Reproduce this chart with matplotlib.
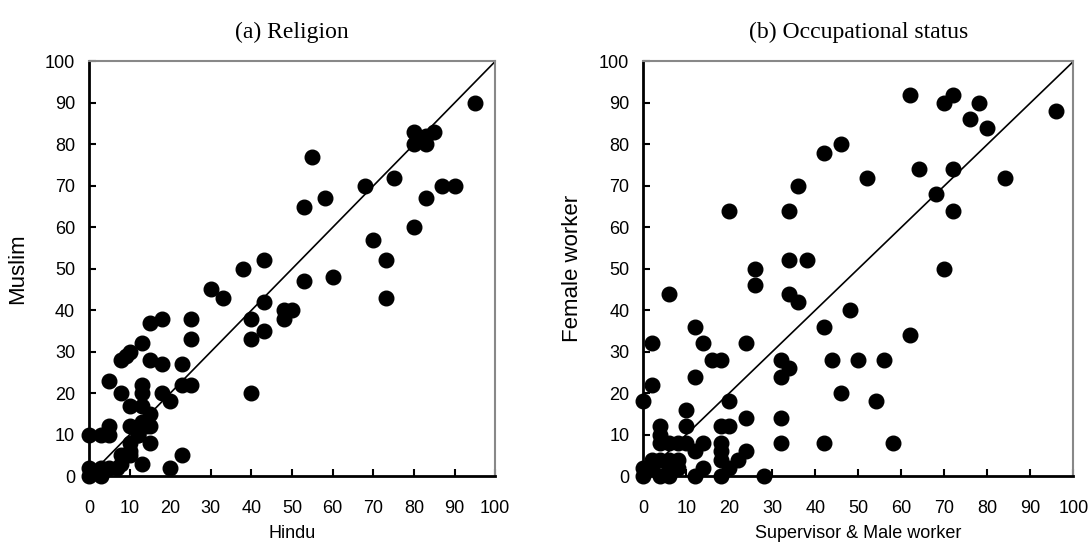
import matplotlib
matplotlib.use("Agg")
import matplotlib.pyplot as plt

# (a) Religion: Hindu vs Muslim
hindu = [95, 80, 83, 85, 80, 83, 55, 68, 75, 58, 83, 87, 90, 53, 70, 80, 73, 60, 53, 73,
         38, 43, 30, 33, 48, 50, 48, 43, 40, 43, 40, 40, 25, 25, 18, 15, 13, 10, 9, 8,
         15, 18, 23, 5, 13, 13, 8, 18, 20, 23, 25, 10, 13, 15, 10, 15, 13, 12, 15, 5,
         0, 3, 5, 10, 10, 8, 10, 8, 13, 20, 23, 0, 0, 3, 3, 2, 5, 7, 12, 14]
muslim = [90, 83, 82, 83, 80, 80, 77, 70, 72, 67, 67, 70, 70, 65, 57, 60, 52, 48, 47, 43,
          50, 52, 45, 43, 40, 40, 38, 42, 38, 35, 33, 20, 38, 33, 38, 37, 32, 30, 29, 28,
          28, 27, 27, 23, 22, 20, 20, 20, 18, 22, 22, 17, 17, 15, 12, 12, 13, 10, 8, 12,
          10, 10, 10, 8, 6, 5, 5, 3, 3, 2, 5, 2, 0, 0, 2, 1, 2, 2, 10, 12]

# (b) Occupational status: Supervisor & Male worker vs Female worker
male = [62, 72, 70, 78, 76, 80, 96, 42, 46, 52, 36, 64, 72, 68, 84, 72, 62,
        20, 34, 34, 38, 26, 70, 26, 34, 36, 6, 48, 42, 12, 2, 14, 24, 16, 18,
        32, 34, 32, 44, 50, 56, 2, 12, 46, 54, 0, 20, 10, 24, 32, 4, 10, 18,
        20, 32, 42, 58, 4, 4, 6, 8, 10, 14, 18, 12, 18, 24, 18, 22, 6, 8,
        2, 4, 0, 8, 14, 20, 0, 4, 6, 12, 18, 28, 6, 2]
female = [92, 92, 90, 90, 86, 84, 88, 78, 80, 72, 70, 74, 74, 68, 72, 64, 34,
          64, 64, 52, 52, 50, 50, 46, 44, 42, 44, 40, 36, 36, 32, 32, 32, 28, 28,
          28, 26, 24, 28, 28, 28, 22, 24, 20, 18, 18, 18, 16, 14, 14, 12, 12, 12,
          12, 8, 8, 8, 10, 8, 8, 8, 8, 8, 8, 6, 6, 6, 4, 4, 4, 4,
          4, 4, 2, 2, 2, 2, 0, 0, 0, 0, 0, 0, 2, 2]

ticks = list(range(0, 101, 10))

fig = plt.figure(figsize=(10.92, 5.53), dpi=100)
ax1 = fig.add_axes([0.0815, 0.139, 0.372, 0.750])
ax2 = fig.add_axes([0.589, 0.139, 0.394, 0.750])

panels = [
    (ax1, hindu, muslim, "(a) Religion", "Hindu", "Muslim", -0.150),
    (ax2, male, female, "(b) Occupational status", "Supervisor & Male worker", "Female worker", -0.139),
]

for ax, xs, ys, title, xl, yl, ylx in panels:
    ax.plot([0, 100], [0, 100], color="black", lw=1.2, zorder=2)
    ax.plot(xs, ys, "o", color="black", ms=10.5, zorder=3, clip_on=False)
    ax.set_xlim(0, 100)
    ax.set_ylim(0, 100)
    ax.set_xticks(ticks)
    ax.set_yticks(ticks)
    ax.tick_params(direction="in", length=5, width=1.5, labelsize=13, pad=10)
    ax.tick_params(axis="x", pad=17)
    for lab in ax.get_xticklabels() + ax.get_yticklabels():
        lab.set_family("Liberation Sans")
    for s in ["left", "bottom"]:
        ax.spines[s].set_color("black")
        ax.spines[s].set_linewidth(2)
    for s in ["top", "right"]:
        ax.spines[s].set_color("#888888")
        ax.spines[s].set_linewidth(1.5)
    ax.set_title(title, family="Liberation Serif", fontsize=17, pad=17)
    ax.set_xlabel(xl, family="Liberation Sans", fontsize=13, labelpad=6)
    ax.set_ylabel(yl, family="Liberation Sans", fontsize=16)
    ax.yaxis.set_label_coords(ylx, 0.5)

fig.savefig("out.png", dpi=100)
